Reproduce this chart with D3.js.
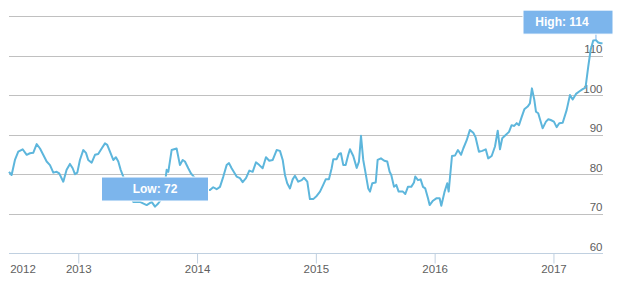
<!DOCTYPE html>
<html><head><meta charset="utf-8">
<script src="https://cdn.jsdelivr.net/npm/d3@7/dist/d3.min.js"></script>
<style>
html,body{margin:0;padding:0;background:#fff;}
svg{display:block;font-family:"Liberation Sans",Arial,sans-serif;}
</style></head>
<body>
<svg id="chart" width="618" height="281"></svg>
<script>
// Time as decimal years
const years = [2012.417,2012.439,2012.467,2012.495,2012.532,2012.566,2012.593,2012.621,2012.650,2012.678,2012.705,2012.734,2012.762,2012.790,2012.818,2012.840,2012.874,2012.902,2012.930,2012.953,2012.972,2012.992,
2013.014,2013.042,2013.065,2013.084,2013.113,2013.141,2013.168,2013.197,2013.225,2013.244,2013.267,2013.295,2013.317,2013.337,2013.357,2013.379,2013.418,2013.463,2013.519,2013.576,2013.618,2013.646,2013.673,2013.716,2013.744,2013.758,2013.786,2013.828,2013.856,2013.879,2013.898,2013.926,2013.949,2013.982,
2014.024,2014.067,2014.109,2014.136,2014.165,2014.193,2014.221,2014.249,2014.269,2014.291,2014.333,2014.361,2014.384,2014.412,2014.440,2014.468,2014.496,2014.524,2014.552,2014.580,2014.608,2014.637,2014.670,2014.698,2014.721,2014.740,2014.759,2014.782,2014.805,2014.824,2014.852,2014.881,2014.900,2014.928,2014.950,2014.978,
2015.007,2015.035,2015.062,2015.083,2015.110,2015.133,2015.147,2015.175,2015.195,2015.211,2015.231,2015.251,2015.273,2015.287,2015.315,2015.344,2015.363,2015.380,2015.399,2015.419,2015.441,2015.456,2015.475,2015.504,2015.520,2015.548,2015.576,2015.601,2015.621,2015.635,2015.658,2015.677,2015.697,2015.733,2015.753,2015.775,2015.803,2015.826,2015.837,2015.860,2015.882,2015.902,2015.921,2015.944,2015.958,2015.986,
2016.014,2016.042,2016.056,2016.084,2016.106,2016.118,2016.146,2016.171,2016.196,2016.222,2016.241,2016.270,2016.297,2016.325,2016.345,2016.373,2016.401,2016.430,2016.451,2016.480,2016.508,2016.531,2016.550,2016.569,2016.598,2016.626,2016.648,2016.670,2016.691,2016.710,2016.733,2016.755,2016.783,2016.802,2016.819,2016.839,2016.853,2016.872,2016.909,2016.937,2016.957,2016.977,
2017.004,2017.027,2017.049,2017.078,2017.111,2017.139,2017.162,2017.190,2017.217,2017.246,2017.270,2017.293,2017.313,2017.335,2017.358,2017.377,2017.398,2017.413];

const values = [80.6,79.8,83.6,85.7,86.3,84.9,85.3,85.4,87.6,86.5,84.9,83.2,82.3,80.4,80.6,80.2,78.1,81.1,82.6,81.5,80.0,80.4,
83.6,86.1,85.4,83.6,82.9,84.9,85.1,86.5,87.8,87.4,85.7,83.6,84.3,83.2,81.1,79.4,76.0,73.0,73.0,72.2,73.0,71.8,72.6,74.3,81.1,80.6,86.1,86.5,82.3,83.6,83.2,81.5,80.2,79.0,
77.8,76.0,76.0,76.7,76.2,76.8,79.4,82.3,82.8,81.5,79.4,79.0,78.0,79.0,80.9,80.6,83.0,82.3,81.5,84.3,83.4,83.6,86.1,85.9,83.6,79.8,77.7,76.4,78.7,79.6,78.1,78.5,79.1,78.1,73.7,73.7,
74.5,75.6,77.3,78.7,78.7,81.5,83.8,83.8,85.1,85.3,82.3,82.3,84.9,86.3,84.6,81.6,83.2,89.7,83.6,80.2,76.4,75.6,77.7,77.9,83.6,84.0,83.4,83.2,80.6,79.8,76.8,77.3,75.6,75.6,75.0,76.8,76.8,77.9,79.4,78.5,78.7,76.8,76.4,73.9,72.2,73.3,
73.9,73.9,72.0,75.6,77.7,75.6,84.6,84.7,86.1,84.9,86.5,88.6,91.2,90.5,89.3,85.7,85.9,86.3,84.0,84.6,87.0,91.0,86.3,89.1,89.9,90.7,92.4,92.2,92.9,92.4,94.5,96.4,97.1,97.9,101.7,98.8,95.8,95.4,91.6,93.3,93.9,93.7,
93.3,91.9,92.9,93.0,96.2,100.0,98.9,100.3,100.9,101.5,101.9,107.2,111.4,113.8,113.9,113.3,113.1,113.1];

const gridTicks = [70, 80, 90, 100, 110, 120];
const yLabels = [60, 70, 80, 90, 100, 110];
const xTicks = [2013, 2014, 2015, 2016, 2017];
const startLabel = "2012";

const svg = d3.select("#chart");
const plotLeft = 9, plotRight = 602.5, plotTop = 16, plotBottom = 253.3;

const x = d3.scaleLinear().domain([d3.min(years), d3.max(years)]).range([plotLeft, plotRight]);
const y = d3.scaleLinear().domain([60, 120]).range([plotBottom, plotTop]);

const font = 11.5;

// grid lines
svg.append("g").selectAll("line").data(gridTicks).join("line")
  .attr("x1", plotLeft).attr("x2", plotRight + 0.5)
  .attr("y1", d => Math.round(y(d)) + 0.5).attr("y2", d => Math.round(y(d)) + 0.5)
  .attr("stroke", "#C0C0C0").attr("stroke-width", 1);

// x axis
const xAxis = svg.append("g").attr("transform", `translate(0,${Math.round(plotBottom) + 0.5})`)
  .call(d3.axisBottom(x).tickValues(xTicks).tickSize(10).tickSizeOuter(0).tickFormat(d3.format("d")));
xAxis.select(".domain").attr("stroke", "#C0D0E0").attr("d", `M${plotLeft},0H${plotRight + 0.5}`);
xAxis.selectAll(".tick line").attr("stroke", "#C0D0E0");
xAxis.selectAll(".tick text").attr("fill", "#606060").attr("font-size", font)
  .attr("font-family", "Liberation Sans, Arial, sans-serif").attr("y", 19.5).attr("dy", 0);
xAxis.append("text").text(startLabel).attr("x", 23).attr("y", 19.5)
  .attr("text-anchor", "middle").attr("fill", "#606060").attr("font-size", font)
  .attr("font-family", "Liberation Sans, Arial, sans-serif");

// y labels (inside, right aligned, above gridline)
svg.append("g").selectAll("text").data(yLabels).join("text")
  .attr("x", plotRight).attr("y", d => y(d) - 2.3)
  .attr("text-anchor", "end").attr("fill", "#606060").attr("font-size", font)
  .text(d => d);

// line
const pts = years.map((t, i) => ({ t, v: values[i] }));
svg.append("path").datum(pts)
  .attr("fill", "none").attr("stroke", "#5DB6DC").attr("stroke-width", 2)
  .attr("stroke-linejoin", "round")
  .attr("d", d3.line().x(d => x(d.t)).y(d => y(d.v)));

// High / Low flags
const iMax = d3.maxIndex(values), iMin = d3.minIndex(values);
const boxColor = "#7CB5EC";

// High
{
  const px = x(years[iMax]), py = y(values[iMax]);
  const w = 90, h = 24;
  const bx = Math.min(px - w / 2, 613 - w);
  const by = py - 30;
  svg.append("line").attr("x1", px).attr("x2", px).attr("y1", by + h).attr("y2", py)
    .attr("stroke", boxColor).attr("stroke-width", 1);
  svg.append("rect").attr("x", bx).attr("y", by).attr("width", w).attr("height", h)
    .attr("fill", boxColor).attr("stroke", "#ffffff").attr("stroke-width", 1);
  svg.append("text").attr("x", bx + 39).attr("y", by + h / 2 + 4.2)
    .attr("text-anchor", "middle").attr("fill", "#fff").attr("font-weight", "bold")
    .attr("font-size", 12).text("High: " + Math.round(values[iMax]));
}
// Low
{
  const px = x(years[iMin]), py = y(values[iMin]);
  const w = 107, h = 24;
  const bx = px - w / 2;
  const by = py - 29.6;
  svg.append("rect").attr("x", bx).attr("y", by).attr("width", w).attr("height", h)
    .attr("fill", boxColor).attr("stroke", "#ffffff").attr("stroke-width", 1);
  svg.append("text").attr("x", bx + w / 2).attr("y", by + h / 2 + 4.2)
    .attr("text-anchor", "middle").attr("fill", "#fff").attr("font-weight", "bold")
    .attr("font-size", 12).text("Low: " + Math.round(values[iMin]));
}
</script>
</body></html>
